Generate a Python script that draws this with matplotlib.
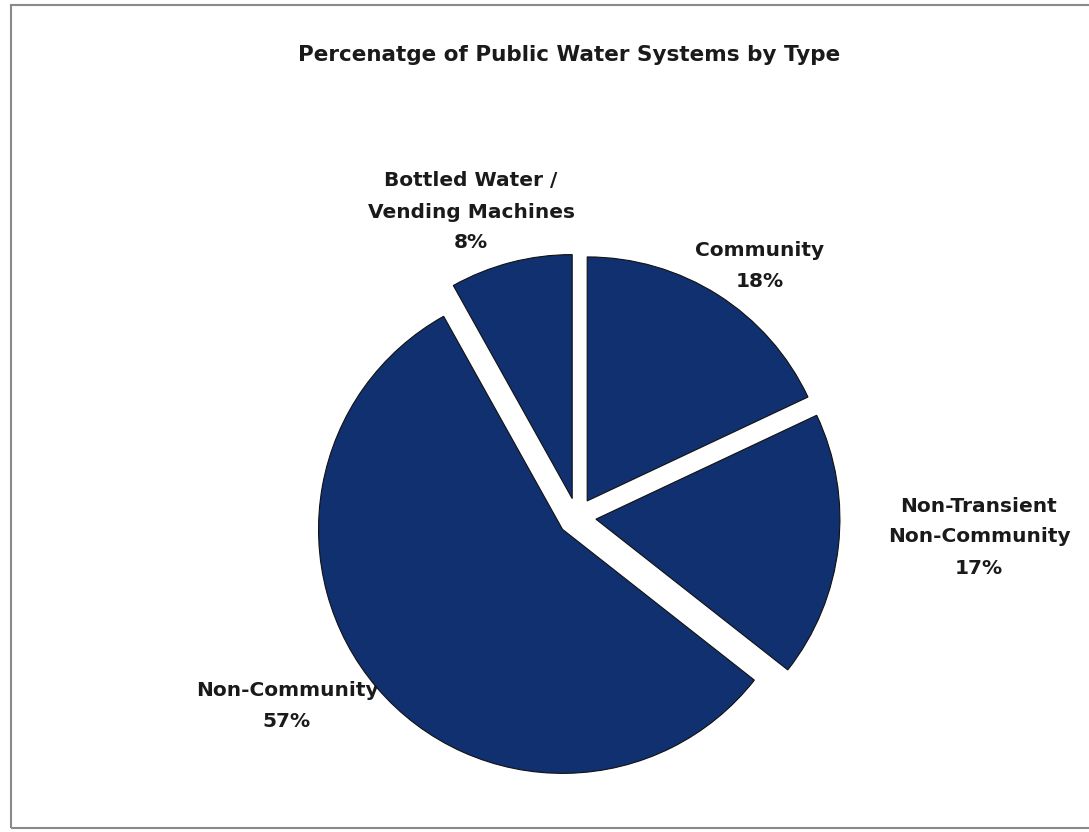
#Importing numpy and pyplot
import numpy as np
import matplotlib.pyplot as plt
from matplotlib.patches import Rectangle

plt.rcParams['font.family'] = ['DejaVu Sans']

categories = ['Community', 'Non-Transient\nNon-Community', 'Non-Community',
              'Bottled Water /\nVending Machines']
shares = [18.0, 17.6, 56.3, 8.1] #share of systems
pct_labels = ['18%', '17%', '57%', '8%']

W, H = 1089, 832
fig = plt.figure(figsize=(W/100, H/100), dpi=100)
fig.patch.set_facecolor('white')

#outer chart frame
fig.patches.append(Rectangle((11/W, 4/H), 1.1, 823/H, transform=fig.transFigure,
                             fill=False, edgecolor='#8a8a8a', linewidth=1.5))

#pie axes: centre at (577,517) px, radius 244 px
cx, cy, r, half = 577, 517, 244, 300
ax = fig.add_axes([(cx-half)/W, (H-cy-half)/H, 2*half/W, 2*half/H])
wedges, texts = ax.pie(shares, startangle=90, counterclock=False,
                       explode=[0.078]*4, colors=['#10306f']*4,
                       wedgeprops=dict(edgecolor='#111111', linewidth=0.8, zorder=2))
ax.set_xlim(-half/r, half/r)
ax.set_ylim(-half/r, half/r)
ax.set_aspect('auto')
ax.axis('off')

#label positions (px in the picture)
label_px = [(760, 266), (979, 537), (287, 706), (471, 212)]
for t, cat, pct, (px, py) in zip(texts, categories, pct_labels, label_px):
    t.set_text(cat + '\n' + pct)
    t.set_position(((px-cx)/r, (cy-py)/r))
    t.set_ha('center')
    t.set_va('center')
    t.set_fontsize(14.5)
    t.set_fontweight('bold')
    t.set_linespacing(1.8)
    t.set_color('#1a1a1a')
    t.set_zorder(1) #wedges drawn over labels, as in the original

fig.text(569/W, 1-55/H, 'Percenatge of Public Water Systems by Type',
         ha='center', va='center', fontsize=15.5, fontweight='bold', color='#1a1a1a')

plt.savefig('out.png', dpi=100)
